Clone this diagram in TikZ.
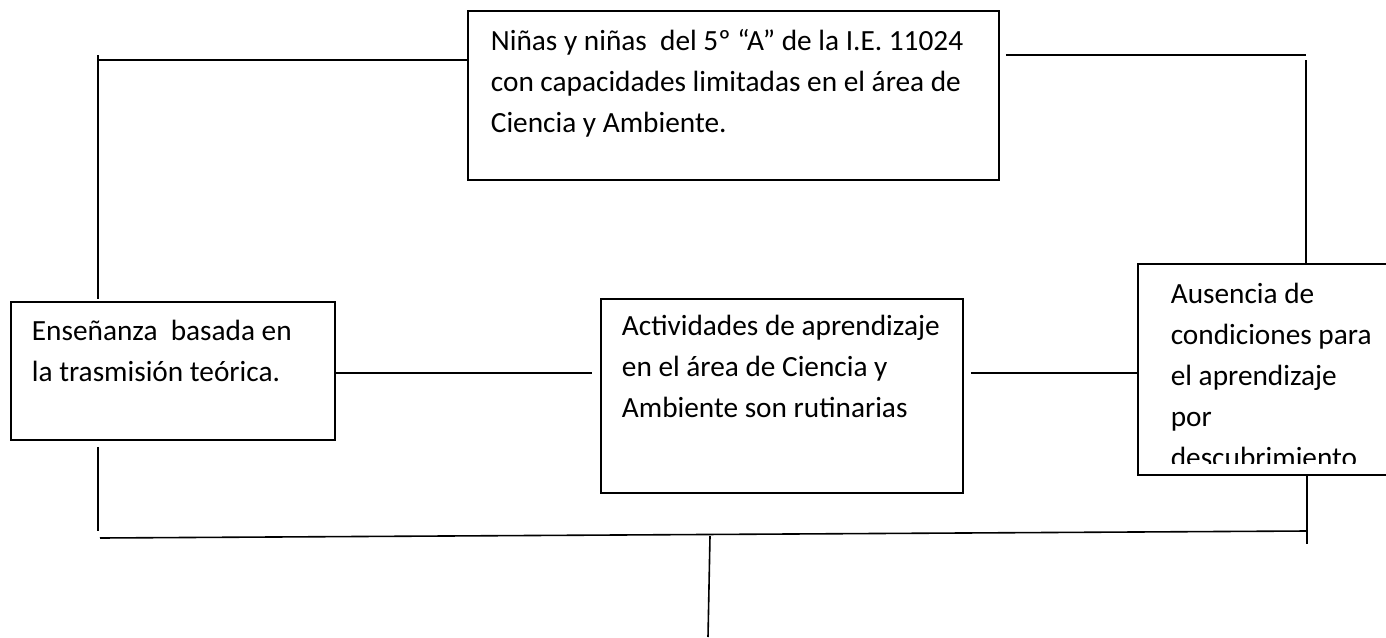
\documentclass[tikz,border=0pt]{standalone}
\usepackage{fontspec}
\setmainfont{Carlito}
\newcommand\boxtxt[5]{\parbox[t][#2][t]{#1}{\fontsize{29.3pt}{41pt}\selectfont\raggedright\leftskip=#3\relax\rule{0pt}{#4}#5}}
\begin{document}
\begin{tikzpicture}[x=1pt,y=-1pt,
  boxst/.style={draw=black, line width=1.8pt, inner sep=0pt, anchor=north west},
  conn/.style={draw=black, line width=1.6pt}]
\useasboundingbox (0,0) rectangle (1386,637);
% boxes
\node[boxst] (tb) at (467,10) {\boxtxt{531pt}{169pt}{23pt}{40pt}{Niñas y niñas\ \ del 5º “A” de la I.E. 11024\\con capacidades limitadas en el área de\\Ciencia y Ambiente.}};
\node[boxst] (lb) at (10,301) {\boxtxt{324pt}{138pt}{21pt}{39pt}{Enseñanza\ \ basada en\\la trasmisión teórica.}};
\node[boxst] (mb) at (600,298) {\boxtxt{362pt}{194pt}{21pt}{37pt}{Actividades de aprendizaje\\en el área de Ciencia y\\Ambiente son rutinarias}};
\node[boxst, minimum width=262pt, minimum height=211pt, path picture={
  \clip (path picture bounding box.north west) rectangle ([yshift=11pt]path picture bounding box.south east);
  \node[anchor=north west, inner sep=0pt] at (path picture bounding box.north west) {\boxtxt{240pt}{211pt}{21pt}{39pt}{Ausencia de\\condiciones para\\el aprendizaje\\por\\descubrimiento}};
}] (rb) at (1137,263) {};
% connectors
\coordinate (tl) at (98,55);
\coordinate (th) at (98,60);
\draw[conn] (th) -- (th -| tb.west);
\draw[conn] (tl) -- ([yshift=2pt]tl |- lb.north);
\coordinate (tr) at (1306,55);
\coordinate (trv) at (1306,60);
\draw[conn] ([xshift=6pt]tb.east |- tr) -- (tr);
\draw[conn] (trv) -- (trv |- rb.north);
\coordinate (cy) at (0,373);
\draw[conn] (lb.east |- cy) -- ([xshift=-8pt]mb.west |- cy);
\draw[conn] ([xshift=7pt]mb.east |- cy) -- (rb.west |- cy);
\coordinate (lv) at (98,531);
\draw[conn] ([yshift=-6pt]lb.south -| lv) -- (lv);
\coordinate (bl) at (100,538);
\coordinate (br) at (1307,531);
\draw[conn] (bl) -- (br);
\coordinate (rv) at (1307,544);
\draw[conn] (rb.south -| rv) -- (rv);
\coordinate (st) at (710,536);
\coordinate (sb) at (708,637);
\draw[conn] (st) -- (sb);
\end{tikzpicture}
\end{document}
